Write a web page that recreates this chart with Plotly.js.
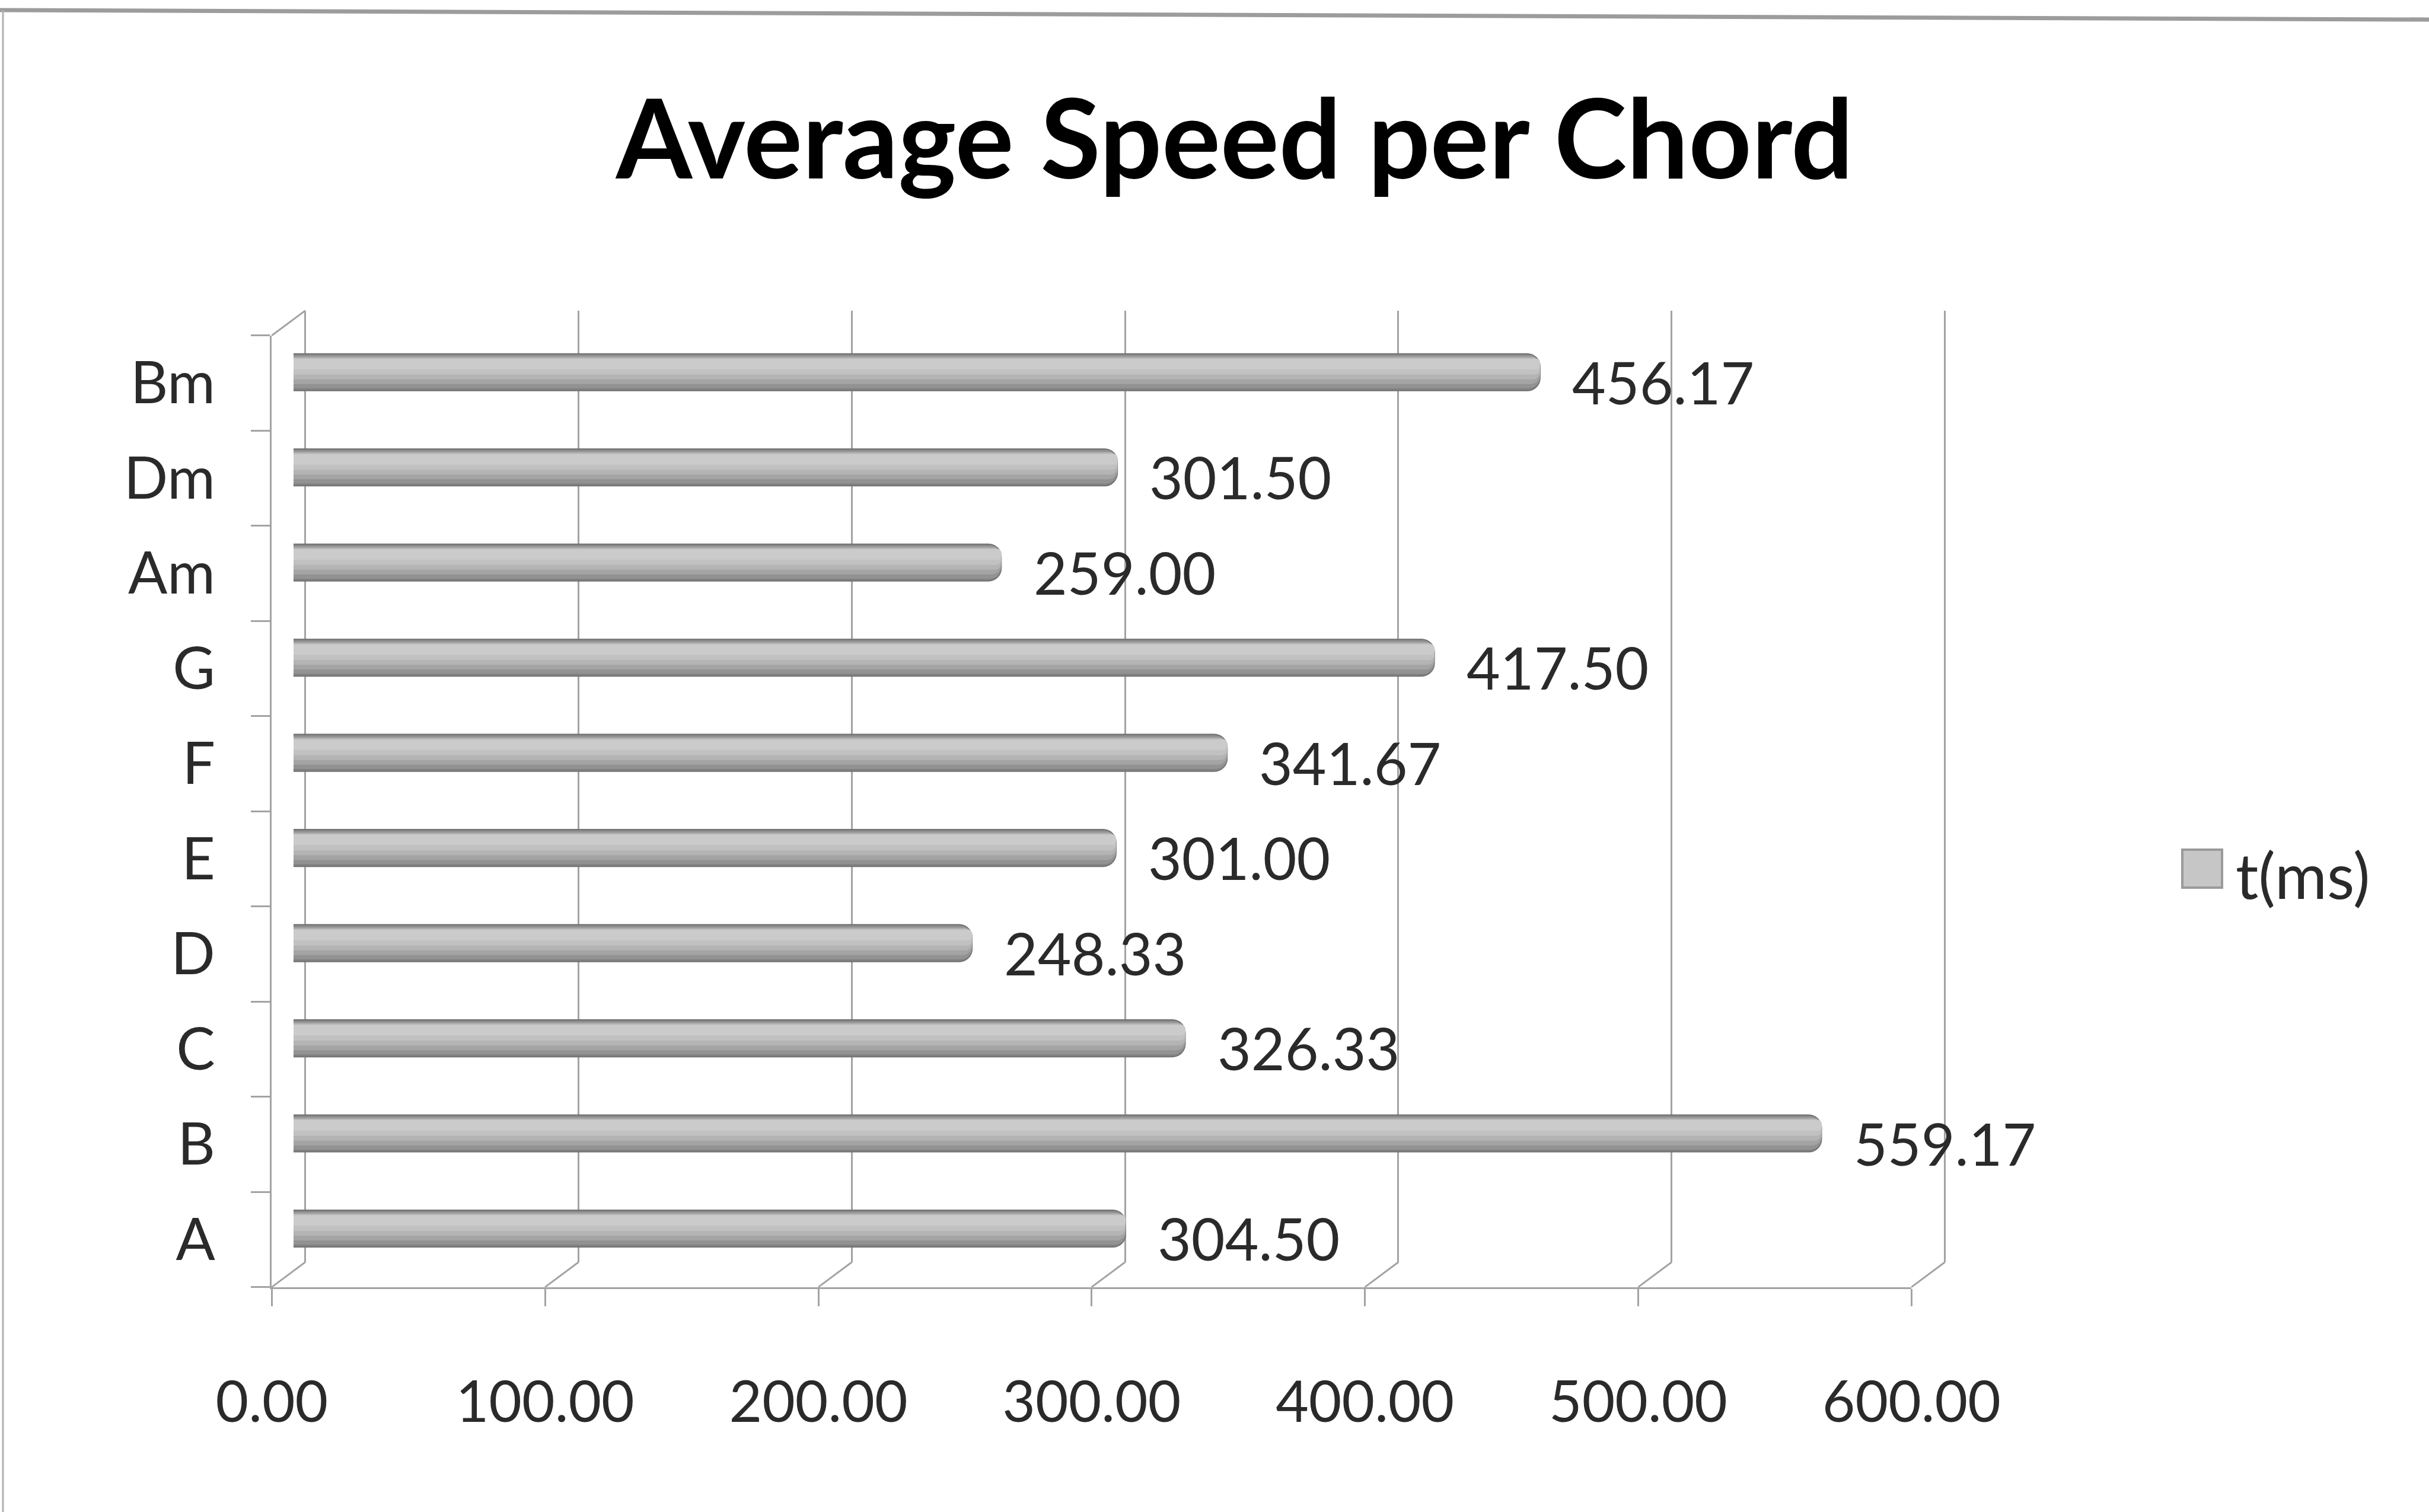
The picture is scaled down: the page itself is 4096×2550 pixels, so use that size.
<!DOCTYPE html>
<html><head><meta charset="utf-8">
<script src="https://cdn.plot.ly/plotly-3.0.1.min.js"></script>
<style>html,body{margin:0;padding:0;background:#fff;overflow:hidden}#chart{width:4096px;height:2550px}</style>
</head><body><div id="chart"></div>
<script>
// ---- data ----
const chords = ['A','B','C','D','E','F','G','Am','Dm','Bm'];
const speedMs = [304.50, 559.17, 326.33, 248.33, 301.00, 341.67, 417.50, 259.00, 301.50, 456.17];
const xTickVals = [0, 100, 200, 300, 400, 500, 600];
const seriesName = 't(ms)';
const chartTitle = 'Average Speed per Chord';

// ---- geometry (px in 4096x2550 canvas) ----
const W = 4096, H = 2550;
const px = x => x / W, py = y => 1 - y / H;
const front = {x0: 458.4, x1: 3223.3, y0: 565.8, y1: 2170.6};
const unit = (front.x1 - front.x0) / 600;
const barOff = {dx: 36.6, dy: -18.3};
const backOff = {dx: 56.2, dy: -41.8};
const FONT = 'Lato, "Open Sans", sans-serif';
const LINE = '#a3a3a3';

const traces = [];
// back wall subplot (gridlines only)
traces.push({type: 'scatter', mode: 'markers', x: speedMs, y: chords, xaxis: 'x', yaxis: 'y',
  marker: {opacity: 0}, hoverinfo: 'skip', showlegend: false});
// cylinder-like bars: nested bands for shading
const bands = [
  {w: 0.39, o: -0.195, c: '#808080'},
  {w: 0.35, o: -0.17, c: '#929292'},
  {w: 0.29, o: -0.125, c: '#a4a4a4'},
  {w: 0.23, o: -0.075, c: '#b4b4b4'},
  {w: 0.17, o: -0.025, c: '#c1c1c1'},
  {w: 0.11, o: 0.03, c: '#cbcbcb'}
];
bands.forEach((b, i) => {
  traces.push({type: 'bar', orientation: 'h', x: speedMs, y: chords, xaxis: 'x2', yaxis: 'y2',
    width: b.w, offset: b.o, name: seriesName, showlegend: false, hoverinfo: 'skip',
    marker: {color: b.c, cornerradius: '35%', line: {width: i === 0 ? 1.5 : 0, color: '#6e6e6e'}}});
});
// front axes subplot
traces.push({type: 'scatter', mode: 'markers', x: speedMs, y: chords, xaxis: 'x3', yaxis: 'y3',
  marker: {opacity: 0}, hoverinfo: 'skip', showlegend: false});

const catAxis = {type: 'category', categoryorder: 'array', categoryarray: chords, range: [-0.5, chords.length - 0.5]};

const annotations = speedMs.map((v, i) => ({
  x: v, y: chords[i], xref: 'x2', yref: 'y2', text: v.toFixed(2), showarrow: false,
  xanchor: 'left', yanchor: 'middle', xshift: 52, yshift: -16,
  font: {family: FONT, size: 98, color: '#2a2a2a'}
}));
annotations.push({x: px(3768), y: py(1474), xref: 'paper', yref: 'paper', text: seriesName,
  showarrow: false, xanchor: 'left', yanchor: 'middle', font: {family: FONT, size: 107, color: '#2a2a2a'}});

const shapes = [];
xTickVals.forEach(v => {
  shapes.push({type: 'line', xref: 'paper', yref: 'paper',
    x0: px(front.x0 + v * unit), y0: py(front.y1),
    x1: px(front.x0 + backOff.dx + v * unit), y1: py(front.y1 + backOff.dy),
    line: {color: LINE, width: 3}});
});
shapes.push({type: 'line', xref: 'paper', yref: 'paper',
  x0: px(front.x0), y0: py(front.y0), x1: px(front.x0 + backOff.dx), y1: py(front.y0 + backOff.dy),
  line: {color: LINE, width: 3}});
// legend swatch
shapes.push({type: 'rect', xref: 'paper', yref: 'paper', x0: px(3680), x1: px(3747), y0: py(1497), y1: py(1433),
  fillcolor: '#c6c6c6', line: {color: '#9a9a9a', width: 4}});
// outer frame
shapes.push({type: 'line', xref: 'paper', yref: 'paper', x0: 0, y0: py(17), x1: 1, y1: py(33), line: {color: '#9c9c9c', width: 7}});
shapes.push({type: 'line', xref: 'paper', yref: 'paper', x0: px(5), y0: 0, x1: px(5), y1: py(17), line: {color: '#b0b0b0', width: 3}});

const layout = {
  width: W, height: H, margin: {l: 0, r: 0, t: 0, b: 0},
  paper_bgcolor: '#ffffff', plot_bgcolor: 'rgba(0,0,0,0)',
  showlegend: false, barmode: 'overlay',
  title: {text: chartTitle, x: px(2082), y: py(236), xanchor: 'center', yanchor: 'middle',
    font: {family: FONT, size: 185, color: '#000', weight: 700}},
  xaxis: {domain: [px(front.x0 + backOff.dx - 2 * unit), px(front.x1 + backOff.dx + 2 * unit)],
    range: [-2, 602], tickvals: xTickVals, showgrid: true, gridcolor: LINE, gridwidth: 3,
    zeroline: false, showline: false, showticklabels: false, ticks: '', anchor: 'y', fixedrange: true},
  yaxis: Object.assign({}, catAxis, {domain: [py(front.y1 + backOff.dy), py(front.y0 + backOff.dy)],
    showgrid: false, showticklabels: false, zeroline: false, showline: false, ticks: '', anchor: 'x', fixedrange: true}),
  xaxis2: {domain: [px(front.x0 + barOff.dx), px(front.x1 + barOff.dx)], range: [0, 600],
    visible: false, anchor: 'y2', fixedrange: true},
  yaxis2: Object.assign({}, catAxis, {domain: [py(front.y1 + barOff.dy), py(front.y0 + barOff.dy)],
    visible: false, anchor: 'x2', fixedrange: true}),
  xaxis3: {domain: [px(front.x0), px(front.x1)], range: [0, 600], tickvals: xTickVals, tickformat: '.2f',
    ticks: 'outside', ticklen: 29, tickwidth: 3, tickcolor: LINE, showline: true, linecolor: LINE, linewidth: 3,
    showgrid: false, zeroline: false, ticklabelstandoff: 80,
    tickfont: {family: FONT, size: 96, color: '#2a2a2a'}, anchor: 'y3', fixedrange: true},
  yaxis3: Object.assign({}, catAxis, {domain: [py(front.y1), py(front.y0)],
    tickson: 'boundaries', ticks: 'outside', ticklen: 32, tickwidth: 3, tickcolor: LINE,
    showline: true, linecolor: LINE, linewidth: 3, showgrid: false, zeroline: false, ticklabelstandoff: 73,
    tickfont: {family: FONT, size: 98, color: '#2a2a2a'}, anchor: 'x3', fixedrange: true}),
  annotations: annotations,
  shapes: shapes
};

Plotly.newPlot('chart', traces, layout, {displayModeBar: false, staticPlot: true});
</script>
</body></html>
